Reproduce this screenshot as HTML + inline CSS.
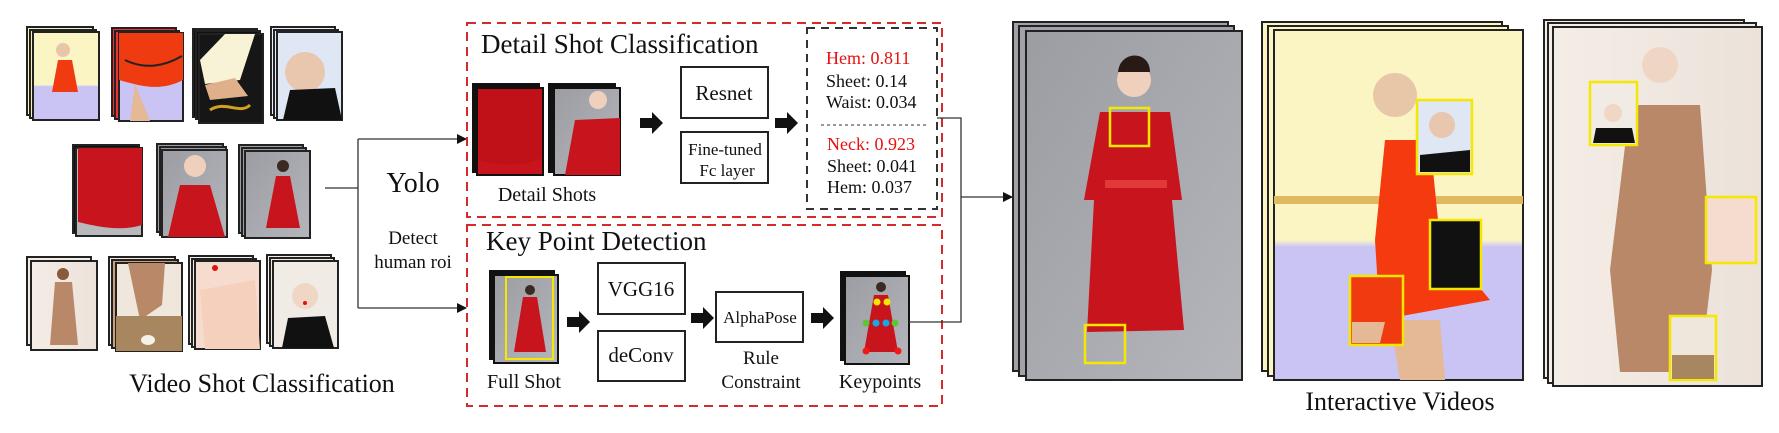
<!DOCTYPE html>
<html><head><meta charset="utf-8"><style>
html,body{margin:0;padding:0;background:#fff;}
svg{display:block;}
text{font-family:"Liberation Serif",serif;fill:#111;}
</style></head><body>
<svg width="1779" height="433" viewBox="0 0 1779 433" xmlns="http://www.w3.org/2000/svg">
<defs>
<marker id="ah" markerWidth="10" markerHeight="10" refX="9" refY="5" orient="auto" markerUnits="userSpaceOnUse"><path d="M0,0 L10,5 L0,10 z" fill="#111"/></marker>
<linearGradient id="yb" x1="0" y1="0" x2="0" y2="1"><stop offset="0.6" stop-color="#fbf5c4"/><stop offset="0.62" stop-color="#c9c4f4"/></linearGradient>
<linearGradient id="gr" x1="0" y1="0" x2="1" y2="1"><stop offset="0" stop-color="#9b9da3"/><stop offset="1" stop-color="#b5b6bb"/></linearGradient>
<linearGradient id="cr" x1="0" y1="0" x2="1" y2="0"><stop offset="0" stop-color="#f4ede6"/><stop offset="1" stop-color="#ebe2da"/></linearGradient>
</defs>

<!-- ===== Left thumbnails (stacks) ===== -->
<g stroke="#222" stroke-width="2">
<!-- row 1 -->
<rect x="27" y="27" width="66" height="88" fill="#f6f0c0"/><rect x="30" y="30" width="66" height="88" fill="#f6f0c0"/><rect x="33" y="32" width="66" height="88" fill="url(#yb)"/>
<rect x="112" y="28" width="64" height="88" fill="#e33"/><rect x="115" y="31" width="64" height="88" fill="#e33"/><rect x="119" y="33" width="64" height="88" fill="#c9c4f4"/>
<rect x="193" y="29" width="64" height="88" fill="#111"/><rect x="196" y="31" width="64" height="88" fill="#111"/><rect x="199" y="34" width="64" height="89" fill="#161616"/>
<rect x="271" y="27" width="64" height="88" fill="#e8eefc"/><rect x="274" y="30" width="64" height="88" fill="#e8eefc"/><rect x="277" y="32" width="65" height="88" fill="#dfe6f4"/>
<!-- row 2 -->
<rect x="73" y="145" width="66" height="88" fill="#111"/><rect x="76" y="148" width="66" height="88" fill="#b8b9bd"/>
<rect x="157" y="144" width="66" height="88" fill="#9c9ea3"/><rect x="160" y="147" width="66" height="88" fill="#9c9ea3"/><rect x="162" y="150" width="65" height="87" fill="url(#gr)"/>
<rect x="239" y="145" width="64" height="88" fill="#9c9ea3"/><rect x="242" y="148" width="64" height="88" fill="#9c9ea3"/><rect x="245" y="151" width="65" height="87" fill="url(#gr)"/>
<!-- row 3 -->
<rect x="27" y="257" width="64" height="88" fill="#f4ede6"/><rect x="31" y="261" width="66" height="89" fill="url(#cr)"/>
<rect x="109" y="257" width="66" height="88" fill="#f4ede6"/><rect x="112" y="260" width="66" height="88" fill="#c9a27a"/><rect x="116" y="263" width="66" height="88" fill="#efe6dc"/>
<rect x="189" y="256" width="64" height="88" fill="#f4ede6"/><rect x="192" y="259" width="64" height="88" fill="#f4ede6"/><rect x="195" y="261" width="65" height="88" fill="#f6dcce"/>
<rect x="267" y="255" width="64" height="88" fill="#f4ede6"/><rect x="270" y="258" width="64" height="88" fill="#f4ede6"/><rect x="273" y="261" width="65" height="87" fill="#f1ebe6"/>
</g>
<!-- thumbnail contents -->
<g stroke="none">
<path d="M58,60 L72,60 L78,92 L52,92 Z" fill="#f03a10"/><circle cx="63" cy="50" r="7" fill="#e8c6a8"/>
<path d="M119,33 L183,33 L183,80 C160,92 140,86 119,80 Z" fill="#f03a10"/><path d="M125,60 C145,70 165,66 182,56" stroke="#222" stroke-width="2" fill="none"/><path d="M135,84 L150,121 L130,121 Z" fill="#e5b896"/>
<path d="M225,34 L255,34 L240,80 L205,84 L200,60 Z" fill="#f8f3d6"/><path d="M205,85 L235,78 L248,96 L210,100 Z" fill="#e0b08a"/><path d="M210,110 C225,100 240,115 250,105" stroke="#d4a020" stroke-width="3" fill="none"/>
<circle cx="305" cy="72" r="20" fill="#e9c6ae"/><path d="M283,120 L290,90 L335,88 L342,120 Z" fill="#111"/>
<path d="M78,148 L142,148 L142,225 C120,232 95,226 78,222 Z" fill="#c8141c"/>
<path d="M180,185 L210,185 L225,237 L168,237 Z" fill="#c8141c"/><circle cx="195" cy="166" r="11" fill="#f0d0bc"/>
<circle cx="283" cy="166" r="6" fill="#3a2a22"/><path d="M276,176 L290,176 L300,228 L266,228 Z" fill="#c8141c"/>
<circle cx="63" cy="274" r="6" fill="#8a5a3a"/><path d="M55,282 L72,282 L78,345 L50,345 Z" fill="#b88868"/>
<path d="M128,263 L165,263 L162,305 L140,320 Z" fill="#b88868"/><rect x="116" y="316" width="66" height="35" fill="#a88660"/><ellipse cx="148" cy="340" rx="7" ry="5" fill="#f4f0ea"/>
<path d="M200,290 L255,280 L260,349 L205,349 Z" fill="#f5d0bc"/><circle cx="215" cy="268" r="3" fill="#d11"/>
<circle cx="305" cy="296" r="13" fill="#f0d6c4"/><path d="M282,348 L288,318 L325,316 L334,348 Z" fill="#111"/><circle cx="305" cy="303" r="2" fill="#d11"/>
</g>

<text x="262" y="392" font-size="26" text-anchor="middle">Video Shot Classification</text>

<!-- ===== Yolo connectors ===== -->
<g stroke="#333" stroke-width="1.3" fill="none">
<line x1="325" y1="188" x2="358" y2="188"/>
<line x1="358" y1="139" x2="358" y2="308"/>
<line x1="358" y1="139" x2="466" y2="139" marker-end="url(#ah)"/>
<line x1="358" y1="308" x2="466" y2="308" marker-end="url(#ah)"/>
</g>
<text x="413" y="192" font-size="28" text-anchor="middle">Yolo</text>
<text x="413" y="244" font-size="19" text-anchor="middle">Detect</text>
<text x="413" y="268" font-size="19" text-anchor="middle">human roi</text>

<!-- ===== Dashed panels ===== -->
<g fill="none" stroke="#d62a2a" stroke-width="2" stroke-dasharray="9,6">
<rect x="467" y="23" width="475" height="194"/>
<rect x="467" y="225" width="475" height="181"/>
</g>
<rect x="807" y="28" width="130" height="181" fill="none" stroke="#333" stroke-width="2" stroke-dasharray="8,6"/>
<line x1="821" y1="125" x2="927" y2="125" stroke="#333" stroke-width="1" stroke-dasharray="3,3"/>

<text x="481" y="53" font-size="27">Detail Shot Classification</text>
<text x="486" y="250" font-size="27">Key Point Detection</text>

<!-- detail shots -->
<g stroke="#111" stroke-width="2">
<rect x="473" y="84" width="66" height="88" fill="#111"/><rect x="477" y="88" width="66" height="87" fill="#c8141c"/>
<rect x="549" y="84" width="66" height="88" fill="#111"/><rect x="554" y="88" width="66" height="87" fill="url(#gr)"/>
</g>
<path d="M478,89 L542,89 L542,158 C520,168 495,165 478,160 Z" fill="#c01018"/>
<path d="M575,120 L620,118 L620,175 L565,175 Z" fill="#c8141c"/><circle cx="598" cy="100" r="9" fill="#f0d0bc"/>
<text x="547" y="201" font-size="20" text-anchor="middle">Detail Shots</text>

<!-- block arrows -->
<g fill="#111">
<path d="M640,118 L652,118 L652,112 L663,123 L652,134 L652,128 L640,128 Z"/>
<path d="M775,118 L787,118 L787,112 L798,123 L787,134 L787,128 L775,128 Z"/>
<path d="M567,317 L579,317 L579,311 L590,322 L579,333 L579,327 L567,327 Z"/>
<path d="M691,313 L703,313 L703,307 L714,318 L703,329 L703,323 L691,323 Z"/>
<path d="M811,313 L823,313 L823,307 L834,318 L823,329 L823,323 L811,323 Z"/>
</g>

<g fill="#fff" stroke="#222" stroke-width="2">
<rect x="681" y="67" width="87" height="51"/>
<rect x="681" y="132" width="87" height="51"/>
<rect x="598" y="263" width="87" height="51"/>
<rect x="598" y="331" width="87" height="50"/>
<rect x="716" y="292" width="87" height="50"/>
</g>
<text x="724" y="100" font-size="21" text-anchor="middle">Resnet</text>
<text x="725" y="155" font-size="17" text-anchor="middle">Fine-tuned</text>
<text x="727" y="176" font-size="17" text-anchor="middle">Fc layer</text>
<text x="641" y="296" font-size="21" text-anchor="middle">VGG16</text>
<text x="641" y="362" font-size="21" text-anchor="middle">deConv</text>
<text x="760" y="323" font-size="17" text-anchor="middle">AlphaPose</text>
<text x="761" y="364" font-size="19" text-anchor="middle">Rule</text>
<text x="761" y="388" font-size="19" text-anchor="middle">Constraint</text>

<!-- scores -->
<g font-size="18">
<text x="826" y="64" style="fill:#e81010">Hem: 0.811</text>
<text x="826" y="87">Sheet: 0.14</text>
<text x="826" y="108">Waist: 0.034</text>
<text x="827" y="150" style="fill:#e81010">Neck: 0.923</text>
<text x="827" y="172">Sheet: 0.041</text>
<text x="827" y="193">Hem: 0.037</text>
</g>

<!-- full shot -->
<g stroke="#111" stroke-width="2">
<rect x="490" y="271" width="64" height="88" fill="#111"/><rect x="494" y="275" width="64" height="88" fill="url(#gr)"/>
<rect x="841" y="272" width="64" height="88" fill="#111"/><rect x="845" y="276" width="64" height="88" fill="url(#gr)"/>
</g>
<circle cx="530" cy="290" r="5" fill="#3a2a22"/><path d="M523,297 L537,297 L546,352 L514,352 Z" fill="#c8141c"/>
<rect x="506" y="277" width="47" height="82" fill="none" stroke="#f5e800" stroke-width="2"/>
<text x="524" y="388" font-size="20" text-anchor="middle">Full Shot</text>
<circle cx="881" cy="287" r="5" fill="#3a2a22"/><path d="M874,295 L888,295 L898,352 L864,352 Z" fill="#c8141c"/>
<g stroke="none"><circle cx="877" cy="302" r="3.5" fill="#f5e800"/><circle cx="887" cy="302" r="3.5" fill="#f5e800"/>
<circle cx="866" cy="323" r="3.5" fill="#5ec43a"/><circle cx="895" cy="323" r="3.5" fill="#5ec43a"/>
<circle cx="876" cy="323" r="3.5" fill="#18a8e8"/><circle cx="886" cy="323" r="3.5" fill="#18a8e8"/>
<circle cx="866" cy="351" r="3.5" fill="#f01818"/><circle cx="898" cy="351" r="3.5" fill="#f01818"/></g>
<text x="880" y="388" font-size="20" text-anchor="middle">Keypoints</text>

<!-- merge connector -->
<g stroke="#333" stroke-width="1.3" fill="none">
<polyline points="937,118 961,118 961,322 909,322"/>
<line x1="961" y1="197" x2="1012" y2="197" marker-end="url(#ah)"/>
</g>

<!-- ===== big stacks ===== -->
<g stroke="#222" stroke-width="2">
<rect x="1013" y="22" width="215" height="349" fill="#a0a2a8"/><rect x="1019" y="26" width="215" height="350" fill="#a0a2a8"/><rect x="1026" y="31" width="216" height="349" fill="url(#gr)"/>
<rect x="1262" y="22" width="240" height="349" fill="#fbf5c4"/><rect x="1268" y="26" width="240" height="350" fill="#fbf5c4"/><rect x="1274" y="30" width="249" height="350" fill="url(#yb)"/>
<rect x="1544" y="20" width="200" height="358" fill="#f4ede6"/><rect x="1548" y="23" width="208" height="360" fill="#f4ede6"/><rect x="1553" y="27" width="209" height="359" fill="url(#cr)"/>
</g>
<!-- woman red dress -->
<circle cx="1134" cy="80" r="17" fill="#efd0bc"/><path d="M1118,72 C1120,50 1150,50 1150,72 Z" fill="#2a1a16"/>
<path d="M1100,112 L1170,112 L1182,200 L1172,200 L1184,330 L1087,332 L1094,200 L1084,200 Z" fill="#c8141c"/>
<rect x="1105" y="180" width="62" height="8" fill="#e23a3a"/>
<rect x="1110" y="108" width="39" height="38" fill="none" stroke="#f5e800" stroke-width="2.5"/>
<rect x="1085" y="325" width="40" height="38" fill="none" stroke="#f5e800" stroke-width="2.5"/>
<!-- girl -->
<rect x="1274" y="196" width="249" height="8" fill="#e0b860"/>
<circle cx="1395" cy="95" r="22" fill="#e8c6a8"/>
<path d="M1385,140 L1430,140 L1440,240 L1490,300 L1380,320 L1375,240 Z" fill="#f53a10"/>
<path d="M1390,320 L1440,320 L1445,380 L1400,380 Z" fill="#e5b896"/>
<g stroke="#f5e800" stroke-width="2.5">
<rect x="1417" y="100" width="55" height="74" fill="#dfe6f4"/>
<rect x="1430" y="220" width="51" height="69" fill="#111"/>
<rect x="1350" y="276" width="53" height="69" fill="#f03a10"/>
</g>
<path d="M1420,155 L1470,150 L1470,172 L1420,172 Z" fill="#111"/><circle cx="1442" cy="125" r="13" fill="#e9c6ae"/>
<path d="M1352,322 L1385,322 L1380,343 L1352,343 Z" fill="#e5b896"/>
<!-- woman brown -->
<circle cx="1660" cy="65" r="18" fill="#efd6c4"/>
<path d="M1630,105 L1700,105 L1712,270 L1700,372 L1620,372 L1610,270 Z" fill="#b88868"/>
<g stroke="#f5e800" stroke-width="2.5">
<rect x="1590" y="82" width="47" height="63" fill="#f1ebe6"/>
<rect x="1706" y="197" width="50" height="66" fill="#f6dcce"/>
<rect x="1670" y="316" width="46" height="64" fill="#efe6dc"/>
</g>
<path d="M1593,143 L1596,128 L1632,128 L1635,143 Z" fill="#111"/><circle cx="1613" cy="113" r="9" fill="#f0d6c4"/>
<rect x="1672" y="355" width="42" height="24" fill="#a88660"/>

<text x="1400" y="410" font-size="26" text-anchor="middle">Interactive Videos</text>
</svg>
</body></html>
